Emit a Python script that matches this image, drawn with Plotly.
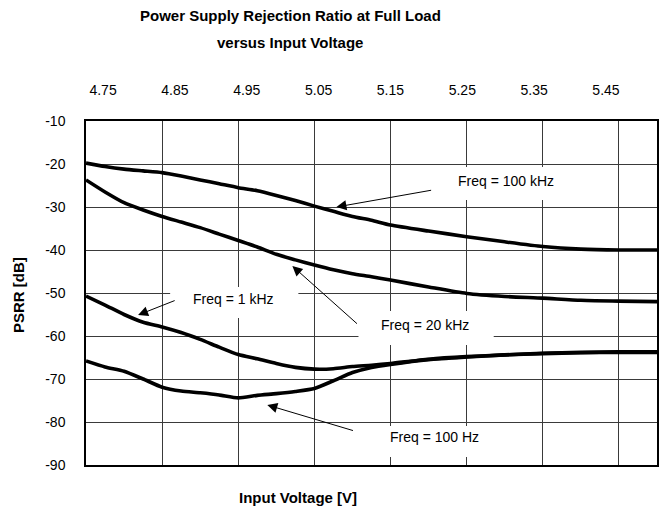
import numpy as np
import plotly.graph_objects as go

# ---------------- data ----------------
voltage = [4.75, 4.775, 4.80, 4.825, 4.85, 4.875, 4.90, 4.925, 4.95, 4.975,
           5.00, 5.025, 5.05, 5.075, 5.10, 5.125, 5.15, 5.20, 5.25, 5.30,
           5.35, 5.40, 5.45, 5.50]

psrr_100khz = [-19.8, -20.6, -21.2, -21.6, -22.0, -22.8, -23.7, -24.6, -25.5, -26.2,
               -27.3, -28.5, -29.8, -31.0, -32.2, -33.1, -34.2, -35.6, -36.9, -38.1,
               -39.2, -39.8, -40.0, -40.0]
psrr_20khz = [-23.7, -26.5, -29.0, -30.7, -32.2, -33.5, -34.8, -36.3, -37.8, -39.3,
              -41.0, -42.3, -43.5, -44.6, -45.5, -46.2, -47.0, -48.6, -50.1, -50.8,
              -51.2, -51.7, -51.9, -52.0]
psrr_1khz = [-50.7, -52.8, -55.0, -56.8, -57.9, -59.2, -60.8, -62.6, -64.3, -65.3,
             -66.4, -67.3, -67.7, -67.6, -67.1, -66.8, -66.4, -65.4, -64.8, -64.4,
             -64.0, -63.8, -63.7, -63.7]
psrr_100hz = [-65.8, -67.2, -68.2, -70.0, -71.9, -72.8, -73.2, -73.7, -74.4, -73.8,
              -73.4, -72.9, -72.2, -70.4, -68.5, -67.3, -66.6, -65.5, -64.9, -64.4,
              -64.1, -63.9, -63.8, -63.8]

x_tick_labels = ["4.75", "4.85", "4.95", "5.05", "5.15", "5.25", "5.35", "5.45"]
y_tick_values = [-90, -80, -70, -60, -50, -40, -30, -20, -10]
y_tick_labels = ["-90", "-80", "-70", "-60", "-50", "-40", "-30", "-20", "-10"]

series_names = ["Freq = 100 kHz", "Freq = 20 kHz", "Freq = 1 kHz", "Freq = 100 Hz"]
series_values = [psrr_100khz, psrr_20khz, psrr_1khz, psrr_100hz]

# ---------------- figure ----------------
FONT = "Liberation Sans, Arial, sans-serif"
fig = go.Figure()

for name, vals in zip(series_names, series_values):
    fig.add_trace(go.Scatter(x=voltage, y=vals, mode="lines", name=name,
                             line=dict(color="black", width=3.6, shape="spline", smoothing=0.6),
                             showlegend=False, xaxis="x", yaxis="y"))

# invisible trace on top axis so it renders
fig.add_trace(go.Scatter(x=[4.75, 5.5], y=[-90, -90], mode="markers",
                         marker=dict(opacity=0), showlegend=False, hoverinfo="skip",
                         xaxis="x2", yaxis="y"))

# label positions on the top axis (as placed in the reference)
label_pos = list(np.linspace(4.7724, 5.433, len(x_tick_labels)))

fig.update_layout(
    template="none",
    width=662, height=513,
    margin=dict(l=86, r=5, t=121, b=48, autoexpand=False),
    paper_bgcolor="white", plot_bgcolor="white",
    font=dict(family=FONT, color="black"),
    xaxis=dict(range=[4.75, 5.5], tick0=4.75, dtick=0.1, showgrid=True,
               gridcolor="#3a3a3a", gridwidth=1, showticklabels=False, ticks="",
               showline=True, linecolor="black", linewidth=1.5, mirror=True,
               zeroline=False, automargin=False),
    xaxis2=dict(range=[4.75, 5.5], overlaying="x", side="top", tickvals=label_pos,
                ticktext=x_tick_labels, showgrid=False, ticks="", zeroline=False,
                showline=False, ticklabelstandoff=22, automargin=False,
                tickfont=dict(size=14, family=FONT, color="black")),
    yaxis=dict(range=[-90, -10], tickvals=y_tick_values, ticktext=y_tick_labels,
               showgrid=True, gridcolor="#3a3a3a", gridwidth=1, ticks="",
               showline=True, linecolor="black", linewidth=1.5, mirror=True,
               zeroline=False, ticklabelstandoff=16, automargin=False,
               tickfont=dict(size=14, family=FONT, color="black")),
)

def vx(px):
    return 4.75 + (px - 86) / 760.0

def vy(py):
    return -10 - (py - 121) / 4.3

# white label boxes between gridlines and traces
boxes = [(432, 167, 580, 200), (170, 287, 298, 318), (358, 311, 493, 345), (360, 426, 506, 457)]
for (x0, y0, x1, y1) in boxes:
    fig.add_shape(type="rect", xref="x", yref="y", x0=vx(x0), x1=vx(x1), y0=vy(y0), y1=vy(y1),
                  fillcolor="white", line=dict(width=0), layer="between")

# text labels
labels = [("Freq = 100 kHz", 505, 181), ("Freq = 1 kHz", 233, 299),
          ("Freq = 20 kHz", 424, 325), ("Freq = 100 Hz", 434, 437)]
for text, px, py in labels:
    fig.add_annotation(x=vx(px), y=vy(py), xref="x", yref="y", text=text, showarrow=False,
                       font=dict(size=14, family=FONT, color="black"))

# arrows (tail -> tip)
arrows = [((432, 190), (336, 207)), ((176, 300), (138, 315)),
          ((358, 325), (292, 266)), ((354, 431), (267, 405))]
for (tx, ty), (hx, hy) in arrows:
    fig.add_annotation(x=vx(hx), y=vy(hy), ax=vx(tx), ay=vy(ty), xref="x", yref="y",
                       axref="x", ayref="y", text="", showarrow=True, arrowhead=2,
                       arrowsize=2, arrowwidth=1, arrowcolor="black", standoff=0)

# titles (paper coords relative to the plot area: left 86, top 121, 571 x 344)
def px_x(px):
    return (px - 86) / 571.0

def px_y(py):
    return (465 - py) / 344.0

title_font = dict(size=15, family=FONT, color="black")
fig.add_annotation(x=px_x(290), y=px_y(16), xref="paper", yref="paper",
                   text="<b>Power Supply Rejection Ratio at Full Load</b>", showarrow=False,
                   font=title_font, xanchor="center", yanchor="middle")
fig.add_annotation(x=px_x(290), y=px_y(42), xref="paper", yref="paper",
                   text="<b>versus Input Voltage</b>", showarrow=False,
                   font=title_font, xanchor="center", yanchor="middle")
fig.add_annotation(x=px_x(298), y=px_y(497), xref="paper", yref="paper",
                   text="<b>Input Voltage [V]</b>", showarrow=False,
                   font=title_font, xanchor="center", yanchor="middle")
fig.add_annotation(x=px_x(18), y=px_y(295), xref="paper", yref="paper",
                   text="<b>PSRR [dB]</b>", showarrow=False, textangle=-90,
                   font=title_font, xanchor="center", yanchor="middle")

fig.write_html("out.html", config={"displayModeBar": False},
               post_script="document.body.style.margin='0';document.body.style.padding='0';")
